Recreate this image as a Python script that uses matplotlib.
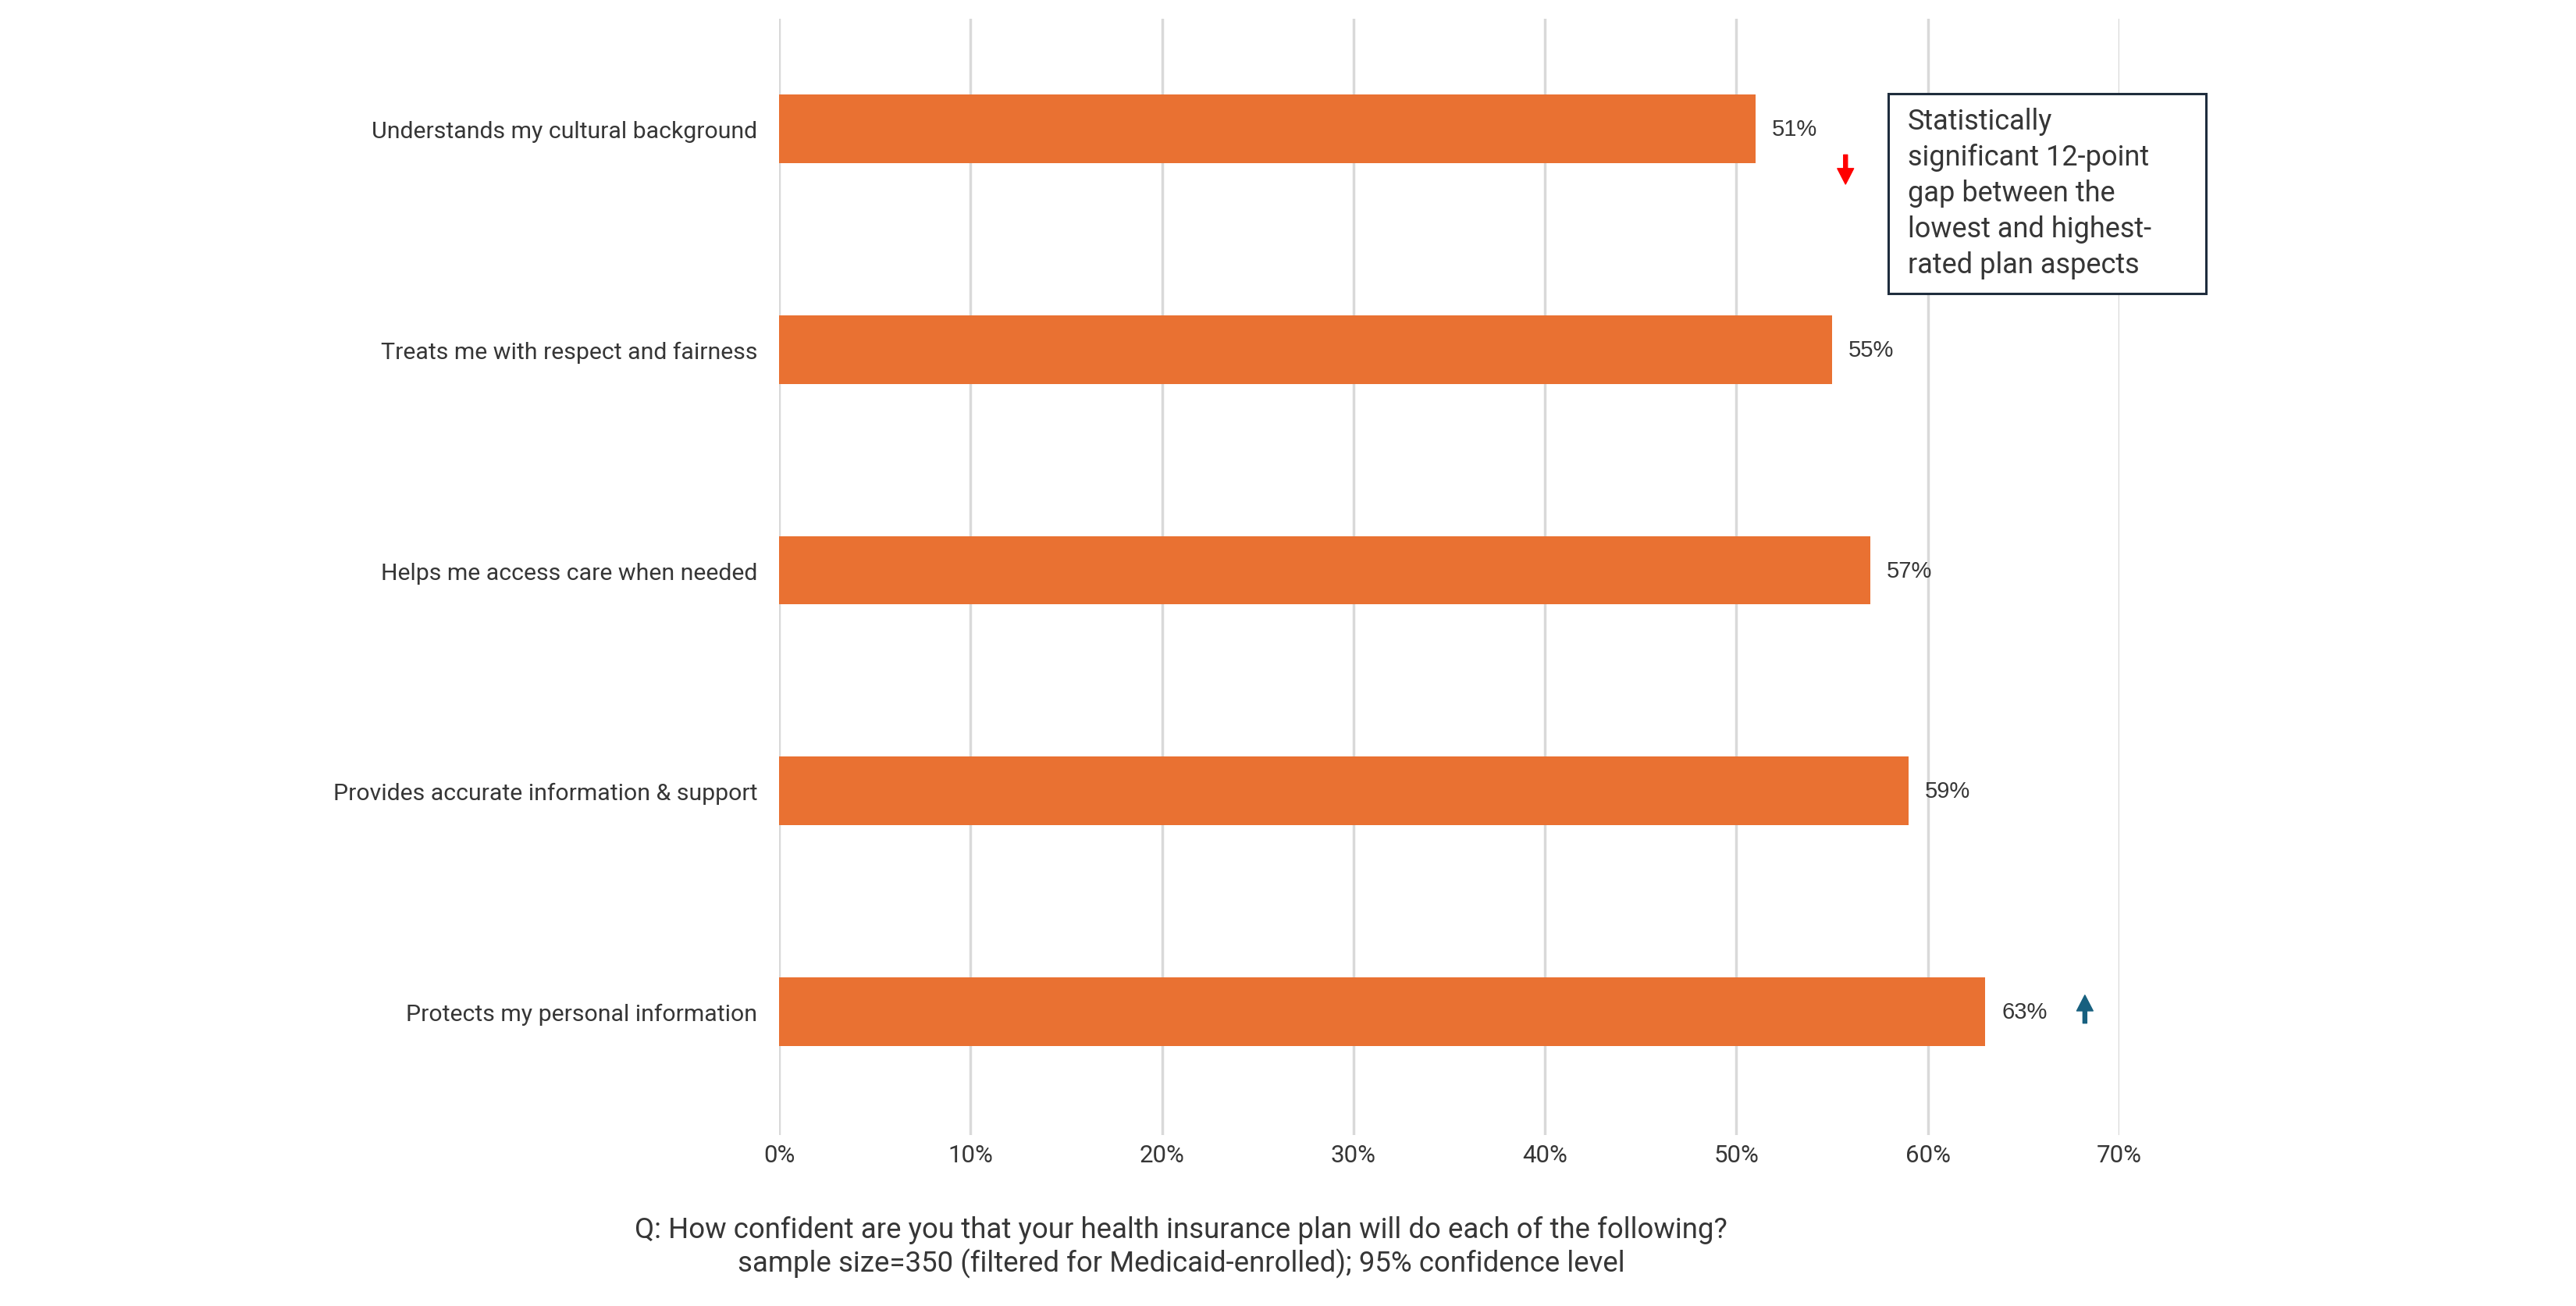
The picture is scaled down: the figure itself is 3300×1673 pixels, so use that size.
import matplotlib
matplotlib.use("Agg")
import matplotlib.pyplot as plt
from matplotlib.patches import Rectangle, FancyArrowPatch

categories = [
    "Understands my cultural background",
    "Treats me with respect and fairness",
    "Helps me access care when needed",
    "Provides accurate information & support",
    "Protects my personal information",
]
values = [51, 55, 57, 59, 63]
xticks = [0, 10, 20, 30, 40, 50, 60, 70]
xtick_labels = ["0%", "10%", "20%", "30%", "40%", "50%", "60%", "70%"]
footer = ("Q: How confident are you that your health insurance plan will do each of the following?\n"
          "sample size=350 (filtered for Medicaid-enrolled); 95% confidence level")
box_text = "Statistically\nsignificant 12-point\ngap between the\nlowest and highest-\nrated plan aspects"

BAR = "#E97132"
TXT = "#363636"
GRID = "#D9D9D9"

W, H = 3300, 1674
fig = plt.figure(figsize=(W / 100, H / 100), dpi=100)
fig.patch.set_facecolor("white")

ax_left, ax_right = 998 / W, 2715 / W
ax_top, ax_bottom = 25 / H, 1455 / H
ax = fig.add_axes([ax_left, 1 - ax_bottom, ax_right - ax_left, ax_bottom - ax_top])

ypos = list(range(len(categories)))
ax.barh(ypos, values, height=0.31, color=BAR, zorder=3)
ax.set_xlim(0, 70)
ax.set_ylim(4.5 + 17 / 283, -0.5)

ax.set_xticks(xticks)
ax.set_xticklabels(xtick_labels, fontfamily="Roboto", fontsize=22.5, color=TXT)
ax.set_yticks(ypos)
ax.set_yticklabels(categories, fontfamily="Roboto", fontsize=21.8, color=TXT)
ax.tick_params(axis="x", length=0, pad=8)
ax.tick_params(axis="y", length=0, pad=20)
ax.grid(axis="x", color=GRID, linewidth=2.5, zorder=0)
for s in ax.spines.values():
    s.set_visible(False)

for y, v in zip(ypos, values):
    ax.annotate(f"{v}%", xy=(v, y), xytext=(15, 0), textcoords="offset points",
                va="center", ha="left", fontfamily="Liberation Sans", fontsize=21, color=TXT)

# significance arrows
down = FancyArrowPatch((55.7, 0.117), (55.7, 0.25), arrowstyle="simple,head_width=1.5,head_length=1.45,tail_width=0.36",
                       mutation_scale=10, color="#FF0000", shrinkA=0, shrinkB=0, zorder=4)
ax.add_patch(down)
up = FancyArrowPatch((68.2, 4.053), (68.2, 3.926), arrowstyle="simple,head_width=1.5,head_length=1.45,tail_width=0.36",
                     mutation_scale=10, color="#17607F", shrinkA=0, shrinkB=0, zorder=4)
ax.add_patch(up)

# annotation box
bx0, bx1, by0, by1 = 2419 / W, 2826 / W, 1 - 377 / H, 1 - 121 / H
fig.patches.append(Rectangle((bx0, by0), bx1 - bx0, by1 - by0, transform=fig.transFigure,
                             facecolor="white", edgecolor="#1F2D3D", linewidth=2.2, zorder=5))
fig.text(2444 / W, 1 - 138 / H, box_text, ha="left", va="top", fontfamily="Roboto",
         fontsize=26, color=TXT, linespacing=1.36, zorder=6)

fig.text(1513 / W, 1 - 1598 / H, footer, ha="center", va="center", multialignment="center",
         fontfamily="Roboto", fontsize=26.4, color=TXT, linespacing=1.2)

fig.savefig("out.png", dpi=100, facecolor="white")
